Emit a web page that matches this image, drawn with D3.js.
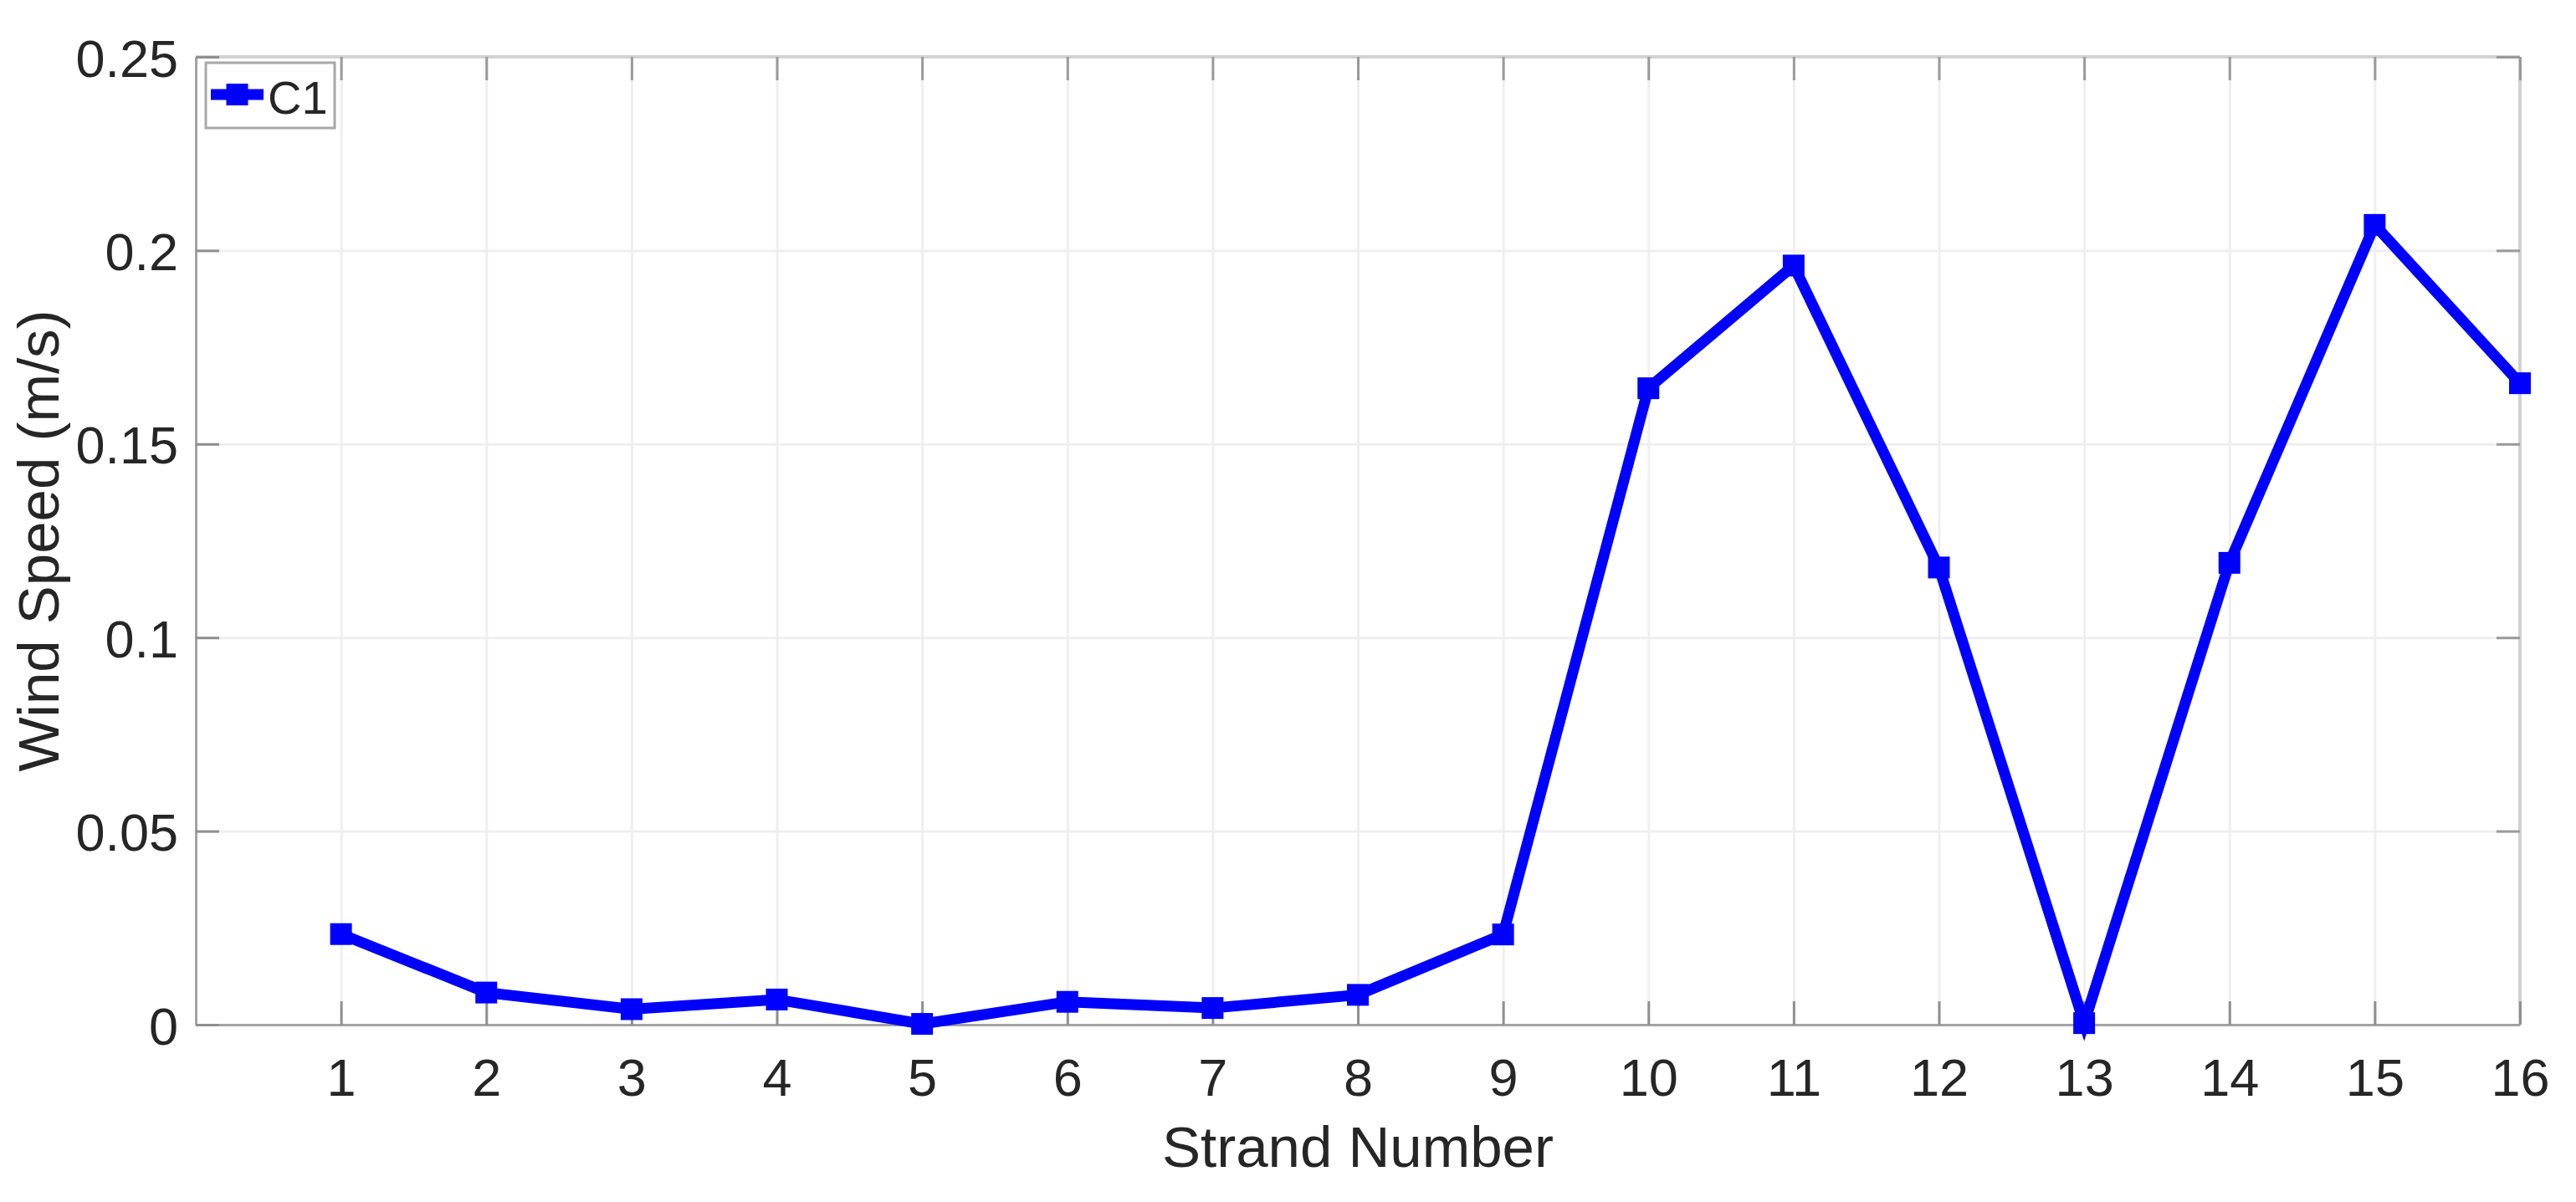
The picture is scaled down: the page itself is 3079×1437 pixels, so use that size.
<!DOCTYPE html>
<html>
<head>
<meta charset="utf-8">
<script src="https://cdn.jsdelivr.net/npm/d3@7"></script>
<style>
  html, body { margin: 0; padding: 0; background: #ffffff; }
  svg { display: block; }
  text { font-family: "Liberation Sans", Arial, Helvetica, sans-serif; fill: #262626; }
</style>
</head>
<body>
<svg id="chart" width="3079" height="1437"></svg>
<script>
// ---- data ----
const strands = [1, 2, 3, 4, 5, 6, 7, 8, 9, 10, 11, 12, 13, 14, 15, 16];
const speedC1 = [0.0234, 0.0083, 0.0040, 0.0065, 0.0002, 0.0059, 0.0043, 0.0077,
                 0.0233, 0.1644, 0.1961, 0.1181, 0.0004, 0.1193, 0.2066, 0.1657];
const xTicks = [1, 2, 3, 4, 5, 6, 7, 8, 9, 10, 11, 12, 13, 14, 15, 16];
const yTicks = [0, 0.05, 0.1, 0.15, 0.2, 0.25];
const yTickLabels = ["0", "0.05", "0.1", "0.15", "0.2", "0.25"];
const seriesName = "C1";
const xTitle = "Strand Number";
const yTitle = "Wind Speed (m/s)";

// ---- layout ----
const L = 234, R = 3012, T = 68, B = 1225;
const W = R - L, H = B - T;
const svg = d3.select("#chart");

const x = d3.scaleLinear().domain([0, 16]).range([L, R]);
const y = d3.scaleLinear().domain([0, 0.25]).range([B, T]);

// grid
const grid = svg.append("g");
grid.append("g").attr("transform", `translate(0,${B})`)
  .call(d3.axisBottom(x).tickValues(xTicks).tickSize(-H).tickFormat(""))
  .call(g => { g.select(".domain").remove(); g.selectAll("line").attr("stroke", "#efefef").attr("stroke-width", 3); });
grid.append("g").attr("transform", `translate(${L},0)`)
  .call(d3.axisLeft(y).tickValues(yTicks).tickSize(-W).tickFormat(""))
  .call(g => { g.select(".domain").remove(); g.selectAll("line").attr("stroke", "#efefef").attr("stroke-width", 3); });

// box (top/right lighter)
svg.append("line").attr("x1", L).attr("x2", R).attr("y1", T).attr("y2", T)
  .attr("stroke", "#d2d2d2").attr("stroke-width", 4);
svg.append("line").attr("x1", R).attr("x2", R).attr("y1", T).attr("y2", B)
  .attr("stroke", "#d2d2d2").attr("stroke-width", 4);

// top/right inner ticks
svg.append("g").attr("transform", `translate(0,${T})`)
  .call(d3.axisTop(x).tickValues(xTicks).tickSize(-28).tickFormat(""))
  .call(g => { g.select(".domain").remove(); g.selectAll("line").attr("stroke", "#9a9a9a").attr("stroke-width", 3); });
svg.append("g").attr("transform", `translate(${R},0)`)
  .call(d3.axisRight(y).tickValues(yTicks).tickSize(-28).tickFormat(""))
  .call(g => { g.select(".domain").remove(); g.selectAll("line").attr("stroke", "#9a9a9a").attr("stroke-width", 3); });

// bottom axis
const xAxis = svg.append("g").attr("transform", `translate(0,${B})`)
  .call(d3.axisBottom(x).tickValues(xTicks).tickSize(-28).tickPadding(0).tickSizeOuter(0).tickFormat(d3.format("d")));
xAxis.select(".domain").attr("stroke", "#a3a3a3").attr("stroke-width", 3);
xAxis.selectAll(".tick line").attr("stroke", "#8f8f8f").attr("stroke-width", 3);
xAxis.selectAll(".tick text").attr("y", 85).attr("dy", null)
  .attr("font-size", 63).attr("fill", "#262626").attr("text-anchor", "middle")
  .style("font-family", "'Liberation Sans', Arial, sans-serif");

// left axis
const yAxis = svg.append("g").attr("transform", `translate(${L},0)`)
  .call(d3.axisLeft(y).tickValues(yTicks).tickSize(-28).tickPadding(0).tickSizeOuter(0)
    .tickFormat((d, i) => yTickLabels[i]));
yAxis.select(".domain").attr("stroke", "#a3a3a3").attr("stroke-width", 3);
yAxis.selectAll(".tick line").attr("stroke", "#8f8f8f").attr("stroke-width", 3);
yAxis.selectAll(".tick text").attr("x", -21).attr("dy", null).attr("y", 23)
  .attr("font-size", 63).attr("fill", "#262626").attr("text-anchor", "end")
  .style("font-family", "'Liberation Sans', Arial, sans-serif");

// axis titles
svg.append("text").attr("x", (L + R) / 2).attr("y", 1395)
  .attr("text-anchor", "middle").attr("font-size", 69).text(xTitle);
svg.append("text").attr("transform", `translate(70,${(T + B) / 2}) rotate(-90)`)
  .attr("text-anchor", "middle").attr("font-size", 69).text(yTitle);

// data line
const pts = strands.map((s, i) => [s, speedC1[i]]);
svg.append("path").datum(pts)
  .attr("fill", "none").attr("stroke", "#0000ff").attr("stroke-width", 13)
  .attr("stroke-linejoin", "miter").attr("stroke-miterlimit", 10)
  .attr("d", d3.line().x(d => x(d[0])).y(d => y(d[1])));
const MS = 26;
svg.append("g").selectAll("rect").data(pts).join("rect")
  .attr("x", d => x(d[0]) - MS / 2).attr("y", d => y(d[1]) - MS / 2)
  .attr("width", MS).attr("height", MS).attr("fill", "#0000ff");

// legend
const lg = svg.append("g");
lg.append("rect").attr("x", 246).attr("y", 75).attr("width", 154).attr("height", 78)
  .attr("fill", "#ffffff").attr("stroke", "#a8a8a8").attr("stroke-width", 3);
lg.append("line").attr("x1", 252).attr("x2", 315).attr("y1", 113).attr("y2", 113)
  .attr("stroke", "#0000ff").attr("stroke-width", 13);
lg.append("rect").attr("x", 283.5 - MS / 2).attr("y", 113 - MS / 2).attr("width", MS).attr("height", MS)
  .attr("fill", "#0000ff");
lg.append("text").attr("x", 320).attr("y", 136).attr("font-size", 56).text(seriesName);
</script>
</body>
</html>
